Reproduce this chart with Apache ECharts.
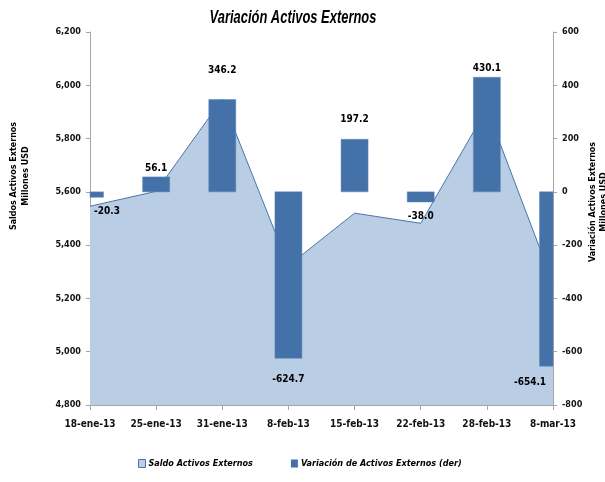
<!DOCTYPE html>
<html>
<head>
<meta charset="utf-8">
<script src="https://cdn.jsdelivr.net/npm/echarts@6/dist/echarts.min.js"></script>
<style>
html,body{margin:0;padding:0;background:#fff;}
#c{width:605px;height:482px;}
</style>
</head>
<body>
<div id="c"></div>
<script>
var categories = ['18-ene-13','25-ene-13','31-ene-13','8-feb-13','15-feb-13','22-feb-13','28-feb-13','8-mar-13'];
var saldo = [5546, 5602, 5948, 5323, 5520, 5482, 5912, 5258];
var variacion = [-20.3, 56.1, 346.2, -624.7, 197.2, -38.0, 430.1, -654.1];
var leftTicks = [4800, 6200, 200];
var rightTicks = [-800, 600, 200];

// label placement styles (not data)
var labelDist = [9, 4, 24, 16, 15, 9, 4, 11];
var labelDx = [17, 0, 0, 0, 0, 0, 0, -23];

var FONT = '"Liberation Sans Narrow", "DejaVu Sans Condensed", "Liberation Sans", sans-serif';
var BAR_COLOR = '#4472a8';
var chart = echarts.init(document.getElementById('c'), null, {renderer: 'canvas'});

var barData = variacion.map(function (v, i) { return [i, v]; });

var axisLbl = {color: '#111', fontFamily: FONT, fontWeight: 'bold', fontSize: 9};
var axisLine = {show: true, onZero: false, lineStyle: {color: '#a6a6a6', width: 1}};

function renderBar(params, api) {
  var i = api.value(0), v = api.value(1);
  var p0 = api.coord([i, 0]);
  var p1 = api.coord([i, v]);
  var w = 27;
  var rect = {x: p0[0] - w / 2, y: Math.min(p0[1], p1[1]), width: w, height: Math.abs(p1[1] - p0[1])};
  var cs = params.coordSys;
  var clipped = echarts.graphic.clipRectByRect(rect, {x: cs.x, y: cs.y, width: cs.width, height: cs.height});
  var idx = params.dataIndex;
  var pos = v >= 0;
  return {
    type: 'group',
    children: [
      {
        type: 'rect',
        shape: clipped,
        style: {fill: BAR_COLOR, stroke: '#5a86bb', lineWidth: 0.5}
      },
      {
        type: 'text',
        x: p1[0] + labelDx[idx],
        y: pos ? p1[1] - labelDist[idx] : p1[1] + labelDist[idx],
        style: {
          text: v.toFixed(1),
          font: 'bold 10px ' + FONT,
          fill: '#000',
          align: 'center',
          verticalAlign: pos ? 'bottom' : 'top'
        }
      }
    ]
  };
}

chart.setOption({
  animation: false,
  grid: {left: 90, right: 52, top: 32, bottom: 77, containLabel: false},
  legend: {
    bottom: 14, left: 138, padding: 0,
    itemWidth: 7, itemHeight: 8, itemGap: 38,
    textStyle: {fontFamily: FONT, fontStyle: 'italic', fontWeight: 'bold', fontSize: 9, color: '#000', padding: [0, 0, 0, -2]},
    data: [
      {name: 'Saldo Activos Externos', icon: 'rect', itemStyle: {color: '#b9cde5', borderColor: '#4a74a8', borderWidth: 1}},
      {name: 'Variación de Activos Externos (der)', icon: 'rect', itemStyle: {color: BAR_COLOR}}
    ]
  },
  xAxis: {
    type: 'category',
    data: categories,
    boundaryGap: false,
    axisLine: axisLine,
    axisTick: {show: true, length: 5, alignWithLabel: true, lineStyle: {color: '#a6a6a6'}},
    axisLabel: Object.assign({}, axisLbl, {fontSize: 10, margin: 14, interval: 0}),
    splitLine: {show: false}
  },
  yAxis: [
    {
      type: 'value', min: leftTicks[0], max: leftTicks[1], interval: leftTicks[2],
      position: 'left',
      axisLine: axisLine,
      axisTick: {show: true, length: 4, lineStyle: {color: '#a6a6a6'}},
      axisLabel: Object.assign({}, axisLbl, {
        margin: 9,
        formatter: function (v) { return v.toLocaleString('en-US'); }
      }),
      splitLine: {show: false}
    },
    {
      type: 'value', min: rightTicks[0], max: rightTicks[1], interval: rightTicks[2],
      position: 'right',
      axisLine: axisLine,
      axisTick: {show: true, length: 4, lineStyle: {color: '#a6a6a6'}},
      axisLabel: Object.assign({}, axisLbl, {margin: 9}),
      splitLine: {show: false}
    }
  ],
  graphic: [
    {
      type: 'text', x: 293, y: 18, scaleX: 0.68,
      style: {
        text: 'Variación Activos Externos',
        font: 'italic bold 19px "Liberation Sans", sans-serif',
        fill: '#000', align: 'center', verticalAlign: 'middle'
      }
    },
    {
      type: 'text', x: 20, y: 176, rotation: Math.PI / 2,
      style: {
        text: 'Saldos Activos Externos\nMillones USD',
        font: 'bold 8px "DejaVu Sans", sans-serif',
        fill: '#000', align: 'center', verticalAlign: 'middle', lineHeight: 12
      }
    },
    {
      type: 'text', x: 598, y: 202, rotation: Math.PI / 2,
      style: {
        text: 'Variación Activos Externos\nMillones USD',
        font: 'bold 8px "DejaVu Sans", sans-serif',
        fill: '#000', align: 'center', verticalAlign: 'middle', lineHeight: 11
      }
    }
  ],
  series: [
    {
      name: 'Saldo Activos Externos',
      type: 'line',
      yAxisIndex: 0,
      data: saldo,
      symbol: 'none',
      lineStyle: {color: '#4a74a8', width: 1},
      areaStyle: {color: '#b9cde5', opacity: 1, origin: 'start'},
      itemStyle: {color: '#b9cde5'},
      z: 1
    },
    {
      name: 'Variación de Activos Externos (der)',
      type: 'custom',
      yAxisIndex: 1,
      data: barData,
      encode: {x: 0, y: 1},
      itemStyle: {color: BAR_COLOR},
      renderItem: renderBar,
      z: 3
    }
  ]
});
</script>
</body>
</html>
